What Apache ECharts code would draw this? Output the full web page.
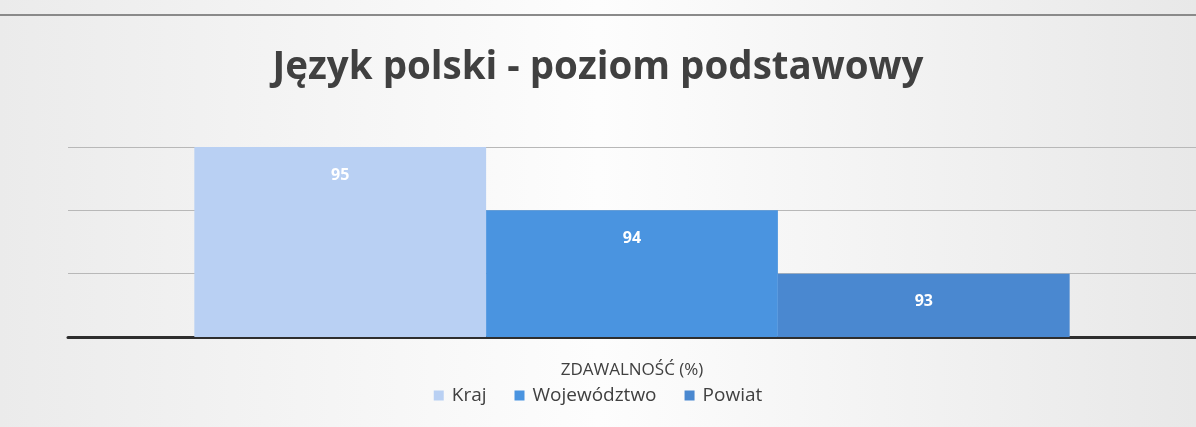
<!DOCTYPE html>
<html>
<head>
    <meta charset="utf-8">
    <script src="https://cdn.jsdelivr.net/npm/echarts@6/dist/echarts.min.js"></script>
    <style>
        html, body { margin: 0; padding: 0; }
        #container { width: 1196px; height: 427px; }
    </style>
</head>
<body>
    <div id="container"></div>
<script type="text/javascript">
    // dane
    var categories = ['ZDAWALNOŚĆ (%)'];
    var seriesNames = ['Kraj', 'Województwo', 'Powiat'];
    var kraj = [95];
    var wojewodztwo = [94];
    var powiat = [93];
    var seriesColors = ['#b9d0f3', '#4a94e0', '#4a88d0'];

    var dom = document.getElementById('container');
    var myChart = echarts.init(dom);
    var values = [kraj, wojewodztwo, powiat];

    var series = seriesNames.map(function (name, i) {
        return {
            name: name,
            type: 'bar',
            data: values[i],
            barGap: '0%',
            barCategoryGap: '22.4%',
            itemStyle: { color: seriesColors[i] },
            label: {
                show: true,
                position: 'insideTop',
                distance: 20,
                color: '#ffffff',
                fontWeight: 'bold',
                fontSize: 16,
                fontFamily: 'Open Sans'
            }
        };
    });

    var option = {
        backgroundColor: new echarts.graphic.LinearGradient(0, 0, 1, 0, [
            { offset: 0, color: '#ebebeb' },
            { offset: 0.5, color: '#fdfdfd' },
            { offset: 1, color: '#e8e8e8' }
        ]),
        title: {
            text: 'Język polski - poziom podstawowy',
            left: 'center',
            top: 44,
            textStyle: {
                fontSize: 38.5,
                fontWeight: 'bold',
                color: '#404040',
                fontFamily: 'Open Sans'
            }
        },
        legend: {
            bottom: 17,
            left: 'center',
            itemWidth: 10,
            itemHeight: 10,
            itemGap: 28,
            icon: 'rect',
            textStyle: { fontSize: 19, color: '#404040', fontFamily: 'Open Sans', padding: [0, 0, 0, 3] },
            data: seriesNames
        },
        grid: { left: 68, right: 0, top: 147, bottom: 90 },
        xAxis: {
            type: 'category',
            data: categories,
            axisTick: { show: false },
            axisLine: { lineStyle: { color: '#2e2e2e', width: 3 } },
            axisLabel: { margin: 25, fontSize: 17, color: '#404040', fontFamily: 'Open Sans' }
        },
        yAxis: {
            type: 'value',
            min: 92,
            max: 95,
            interval: 1,
            axisLabel: { show: false },
            axisLine: { show: false },
            axisTick: { show: false },
            splitLine: { lineStyle: { color: '#b8b8b8', width: 1 } }
        },
        graphic: [{
            type: 'rect',
            left: 0,
            top: 14,
            shape: { width: 1196, height: 2 },
            style: { fill: '#8a8a8a' }
        }],
        series: series
    };
    myChart.setOption(option, true);
</script>
</body>
</html>
